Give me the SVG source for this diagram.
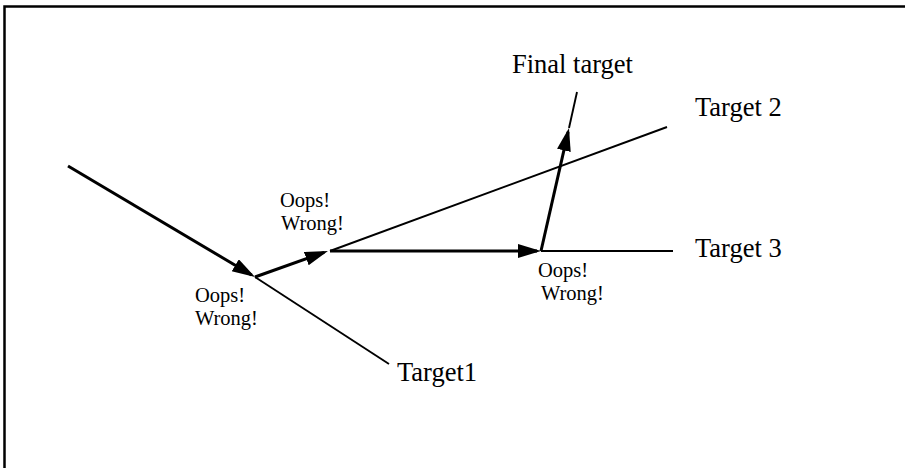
<svg xmlns="http://www.w3.org/2000/svg" width="905" height="468" viewBox="0 0 905 468">
  <style>
    .frame { fill: #ffffff; stroke: #000000; stroke-width: 2.5; }
    .path { fill: none; stroke: #000000; stroke-width: 3; }
    .target { fill: none; stroke: #000000; stroke-width: 1.9; }
    .big { font-family: "Liberation Serif", "Times New Roman", serif; font-size: 26.5px; fill: #000000; }
    .small { font-family: "Liberation Serif", "Times New Roman", serif; font-size: 20.5px; fill: #000000; }
  </style>
  <defs>
    <!-- filled arrowhead; tip sits 4px past the end of the line -->
    <marker id="head" markerUnits="userSpaceOnUse" markerWidth="26" markerHeight="16" refX="19" refY="7" orient="auto">
      <path d="M0,0 L23,7 L0,14 z" fill="#000000"/>
    </marker>
  </defs>

  <rect class="frame" x="4.5" y="6.5" width="920" height="480"/>

  <!-- target lines -->
  <g id="target-lines">
    <line class="target" x1="255" y1="277" x2="389" y2="364"/>
    <line class="target" x1="330" y1="251" x2="667" y2="127"/>
    <line class="target" x1="541" y1="251" x2="673" y2="251"/>
    <line class="target" x1="569" y1="128" x2="577" y2="92"/>
  </g>

  <!-- path taken, step by step -->
  <g id="connectors">
    <line class="path" x1="68" y1="166" x2="251.6" y2="275" marker-end="url(#head)"/>
    <line class="path" x1="255" y1="277" x2="324.2" y2="252.3" marker-end="url(#head)"/>
    <line class="path" x1="330" y1="251" x2="537" y2="251" marker-end="url(#head)"/>
    <line class="path" x1="541" y1="251" x2="568.1" y2="131.9" marker-end="url(#head)"/>
  </g>

  <g id="final-target"><text class="big" x="512" y="73">Final target</text></g>
  <g id="target-2"><text class="big" x="695" y="116">Target 2</text></g>
  <g id="target-3"><text class="big" x="695" y="257">Target 3</text></g>
  <g id="target-1"><text class="big" x="397" y="381">Target1</text></g>

  <g id="miss-1">
    <text class="small" x="195" y="302">Oops!</text>
    <text class="small" x="195" y="325">Wrong!</text>
  </g>
  <g id="miss-2">
    <text class="small" x="280" y="207">Oops!</text>
    <text class="small" x="281" y="230">Wrong!</text>
  </g>
  <g id="miss-3">
    <text class="small" x="538" y="277">Oops!</text>
    <text class="small" x="541" y="300">Wrong!</text>
  </g>
</svg>
